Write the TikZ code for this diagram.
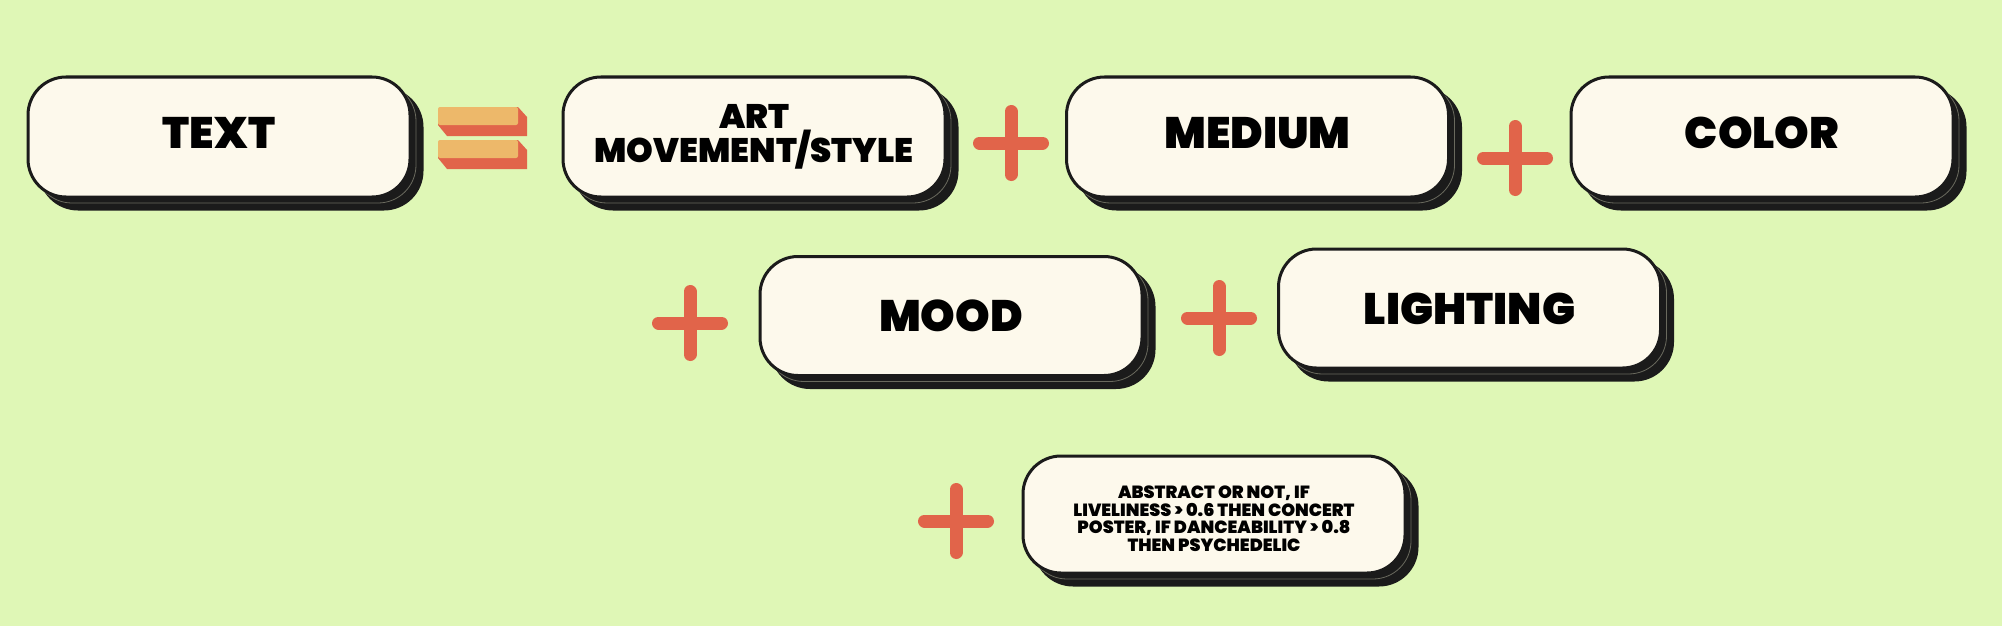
\documentclass[tikz,border=0pt]{standalone}
\usepackage{fontspec}
\newfontfamily\cardfont{Poppins Black}
\usetikzlibrary{shadows}

\definecolor{leaf}{HTML}{DFF7B6}
\definecolor{cream}{HTML}{FDF9EC}
\definecolor{ink}{HTML}{1B1B1B}
\definecolor{seam}{HTML}{6A6A5E}
\definecolor{tomato}{HTML}{E1644A}
\definecolor{sand}{HTML}{EDB86A}

\tikzset{
 card/.style={rectangle,rounded corners=38pt,minimum width=382pt,minimum height=120pt,
  inner sep=0pt,fill=cream,draw=ink,line width=3pt,align=center,
  font=\cardfont\fontsize{44}{44}\selectfont,
  copy shadow={shadow xshift=12pt,shadow yshift=-12pt,fill=ink,draw=ink},
  copy shadow={shadow xshift=6pt,shadow yshift=-6pt,fill=ink,draw=seam,line width=.8pt}},
 lifted/.style={text depth=9pt},
 plusbar/.style={draw=tomato,line width=13pt,line cap=round},
}

\begin{document}
\begin{tikzpicture}[x=1pt,y=-1pt]
\fill[leaf] (0,0) rectangle (2002,626);
\useasboundingbox (0,0) rectangle (2002,626);
% equals sign
\foreach \dy in {0,33}{
 \fill[tomato] (438,118+\dy)--(438,125+\dy)--(447,136+\dy)--(527,136+\dy)--(527,117+\dy)--(518,107+\dy)--cycle;
 \fill[sand,rounded corners=2pt] (438,107+\dy) rectangle (518,125+\dy);
}
% plus signs
\foreach \px/\py in {1011/143,1515/158,690/323,1219/318,956/521}{
 \draw[plusbar] (\px-31.5,\py)--(\px+31.5,\py) (\px,\py-31.5)--(\px,\py+31.5);
}
\node[card,lifted] (text) at (219,137) {TEXT};
\node[card,font=\cardfont\fontsize{34}{30}\selectfont] (art) at (754,137) {ART\\MOVEMENT/STYLE};
\node[card,lifted] (medium) at (1257.5,137) {MEDIUM};
\node[card,lifted] (color) at (1762,137) {COLOR};
\node[card,minimum height=119pt] (mood) at (951,316) {MOOD};
\node[card,minimum height=119pt] (lighting) at (1469.5,308.5) {LIGHTING};
\node[card,minimum height=117pt,font=\cardfont\fontsize{17.6}{17.5}\selectfont] (style) at (1214,514.5)
 {\rule{0pt}{21pt}ABSTRACT OR NOT, IF\\LIVELINESS > 0.6 THEN CONCERT\\POSTER, IF DANCEABILITY > 0.8\\THEN PSYCHEDELIC};
\end{tikzpicture}
\end{document}
